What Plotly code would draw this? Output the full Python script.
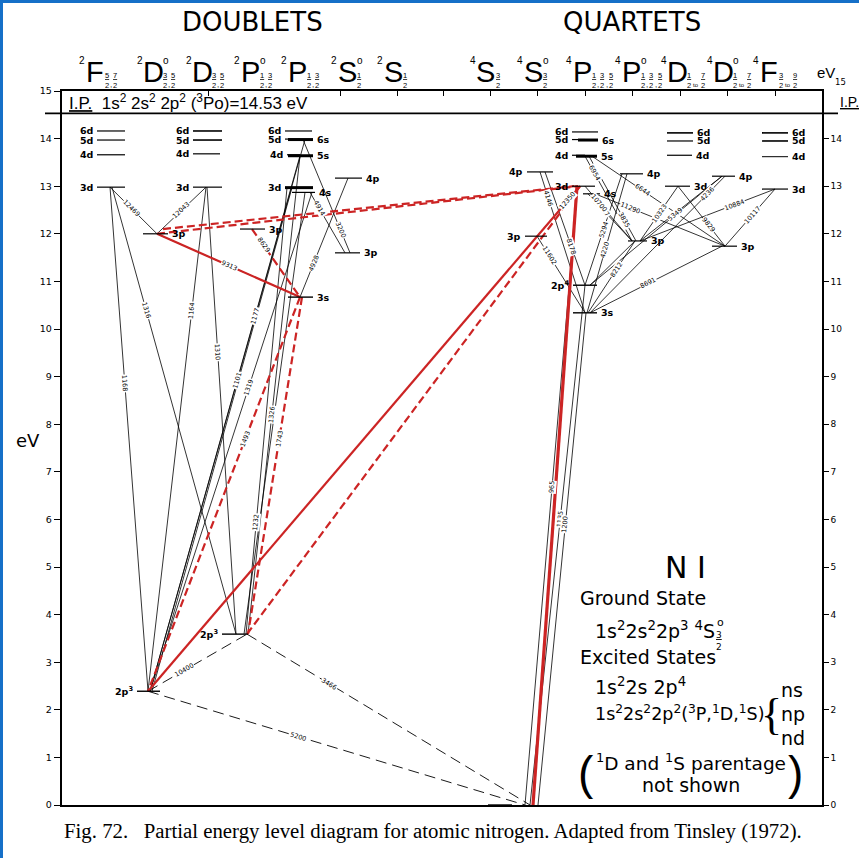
import math
import plotly.graph_objects as go

# ---------------------------------------------------------------------------
# Energy levels of neutral nitrogen (eV above the 2p3 4S ground state)
# ---------------------------------------------------------------------------
LEVEL_IDS = [
    "dF6d", "dF5d", "dF4d", "dF3d",
    "dDo6d", "dDo5d", "dDo4d", "dDo3d",
    "dD3p",
    "dPo6d", "dPo5d", "dP6s", "dPo4d", "dP5s", "dPo3d", "dP4s",
    "dP3p", "dP3s", "dS4p", "dS3p",
    "d2p3D", "d2p3P",
    "qGnd", "qS4p", "qS3p",
    "qP6d", "qP5d", "qP6s", "qP4d", "qP5s", "qP3d", "qP4s",
    "q2p4", "q3s", "qPo4p", "qPo3p",
    "qD6d", "qD5d", "qD4d", "qD3d",
    "qDo4p", "qDo3p",
    "qF6d", "qF5d", "qF4d", "qF3d",
]
LEVEL_EV = [
    14.16, 13.97, 13.66, 12.98,
    14.16, 13.97, 13.68, 12.98,
    12.00,
    14.16, 13.99, 13.98, 13.66, 13.64, 12.97, 12.87,
    12.10, 10.67, 13.17, 11.60,
    2.39, 3.59,
    0.00, 13.30, 11.95,
    14.14, 13.98, 13.97, 13.65, 13.63, 13.00, 12.84,
    10.92, 10.34, 13.26, 11.85,
    14.12, 13.95, 13.65, 13.00,
    13.21, 11.74,
    14.12, 13.95, 13.62, 12.94,
]
LEVEL_LABELS = [
    "6d", "5d", "4d", "3d",
    "6d", "5d", "4d", "3d",
    "3p",
    "6d", "5d", "6s", "4d", "5s", "3d", "4s",
    "3p", "3s", "4p", "3p",
    "2p<sup>3</sup>", "2p<sup>3</sup>",
    "", "4p", "3p",
    "6d", "5d", "6s", "4d", "5s", "3d", "4s",
    "2p<sup>4</sup>", "3s", "4p", "3p",
    "6d", "5d", "4d", "3d",
    "4p", "3p",
    "6d", "5d", "4d", "3d",
]

# Transitions: upper/lower level and wavelength label (Angstrom)
TRANS_FROM = [
    "dF3d", "dDo3d", "dD3p", "dF3d", "dF3d", "dDo3d", "dDo3d",
    "dP6s", "dP5s", "dP4s", "dPo3d", "dPo3d", "dP5s", "dP4s",
    "dP3s", "dP3s", "dP3p", "dD3p", "dP3s", "dP6s", "dP4s",
    "dD3p", "dD3p", "d2p3D", "d2p3P", "qGnd",
    "qGnd", "qGnd", "qGnd",
    "d2p3D", "d2p3P", "d2p3D",
    "qS4p", "qS4p", "qS3p", "qS3p",
    "qP5s", "qP5s", "qP4s", "qP3d", "qP4s", "qP5s",
    "q2p4", "q3s", "q3s", "q3s",
    "qPo3p", "q2p4", "q3s", "qD3d", "qPo3p", "qDo3p", "qPo3p", "q2p4",
]
TRANS_TO = [
    "dD3p", "dD3p", "dP3s", "d2p3D", "d2p3P", "d2p3D", "d2p3P",
    "d2p3D", "d2p3D", "d2p3D", "d2p3D", "d2p3P", "d2p3P", "d2p3P",
    "d2p3D", "d2p3P", "dP3s", "dP3s", "dS4p", "dS3p", "dS3p",
    "qP3d", "qP3d", "qP3d", "qP3d", "qP3d",
    "qP4s", "q2p4", "q3s",
    "d2p3P", "qGnd", "qGnd",
    "q3s", "q2p4", "q3s", "qP3d",
    "qPo3p", "qPo3p", "qPo3p", "qPo3p", "qDo3p", "qDo3p",
    "qPo4p", "qPo4p", "qPo3p", "qDo3p",
    "qD3d", "qDo4p", "qDo4p", "qDo3p", "qF3d", "qF3d", "qDo4p", "qPo3p",
]
TRANS_LABELS = [
    "12469", "12043", "9313", "1168", "1316", "1164", "1310",
    "1177", "1101", "1319", "", "1232", "1326", "",
    "1493", "1743", "8629", "", "4928", "3200", "4914",
    "", "", "", "", "",
    "965", "1135", "1200",
    "10400", "3466", "5200",
    "4146", "8178", "11602", "12350",
    "6954", "3835", "12217", "10700", "11290", "6644",
    "5294", "4220", "8212", "8691",
    "10323", "5349", "4236", "9829", "10884", "10117", "", "",
]

# Column-tick positions along the 15 eV line
TOP_TICKS = [208, 340, 397, 443, 490, 537, 585, 632, 680, 727, 775]

# ---------------------------------------------------------------------------
# Drawing geometry
# ---------------------------------------------------------------------------
W, H = 859, 858
ML, MR, MT, MB = 62, 37, 91, 53
PLOT_W = W - ML - MR
PLOT_H = H - MT - MB
PX_PER_EV = PLOT_H / 15.0
RED = "#cc2424"
FONT = "DejaVu Sans"
SANS = "Liberation Sans, Arial, sans-serif"
SERIF = "Liberation Serif, Times New Roman, serif"

# horizontal extent of each level bar, label side and weight
LEVEL_SPAN = {
    "dF6d": (97, 125, "L", 1.2), "dF5d": (97, 125, "L", 1.2),
    "dF4d": (97, 125, "L", 1.2), "dF3d": (97, 125, "L", 1.2),
    "dDo6d": (193, 222, "L", 1.6), "dDo5d": (193, 222, "L", 1.6),
    "dDo4d": (193, 220, "L", 1.2), "dDo3d": (193, 222, "L", 1.2),
    "dD3p": (143, 168, "R", 1.2),
    "dPo6d": (285, 312, "L", 1.2), "dPo5d": (285, 300, "L", 1.2),
    "dP6s": (288, 313, "R", 3.0), "dPo4d": (287, 300, "L", 1.2),
    "dP5s": (288, 313, "R", 3.0), "dPo3d": (285, 313, "L", 3.0),
    "dP4s": (292, 315, "R", 1.2),
    "dP3p": (240, 265, "R", 1.2), "dP3s": (288, 313, "R", 1.4),
    "dS4p": (335, 362, "R", 1.2), "dS3p": (335, 360, "R", 1.2),
    "d2p3D": (137, 160, "L", 1.4), "d2p3P": (222, 248, "L", 1.4),
    "qGnd": (488, 512, "R", 1.4),
    "qS4p": (527, 553, "L", 1.2), "qS3p": (525, 547, "L", 1.2),
    "qP6d": (572, 598, "L", 1.2), "qP5d": (572, 585, "L", 1.2),
    "qP6s": (578, 598, "R", 3.0), "qP4d": (572, 585, "L", 1.2),
    "qP5s": (576, 597, "R", 3.0), "qP3d": (572, 595, "L", 1.2),
    "qP4s": (583, 600, "R", 1.2),
    "q2p4": (573, 597, "L", 1.4), "q3s": (573, 597, "R", 1.4),
    "qPo4p": (620, 643, "R", 1.2), "qPo3p": (628, 647, "R", 1.2),
    "qD6d": (667, 693, "R", 1.6), "qD5d": (667, 693, "R", 1.2),
    "qD4d": (667, 692, "R", 1.2), "qD3d": (665, 690, "R", 1.2),
    "qDo4p": (712, 735, "R", 1.2), "qDo3p": (712, 737, "R", 1.2),
    "qF6d": (762, 788, "R", 1.6), "qF5d": (762, 788, "R", 1.6),
    "qF4d": (762, 788, "R", 1.0), "qF3d": (762, 788, "R", 1.2),
}

# where each transition meets its two levels, line style, label position
# (x_from, x_to, style, label fraction, energy nudge at the upper end)
TRANS_GEOM = [
    (110, 157, "k", 0.45, 0), (206, 157, "k", 0.5, 0), (157, 300, "k", 0.51, 0),
    (110, 148, "k", 0.39, 0), (112, 236, "k", 0.275, 0), (206, 148, "k", 0.244, 0),
    (207, 236, "k", 0.37, 0),
    (305, 150, "k", 0.32, 0), (300, 150, "k", 0.42, 0), (312, 150, "k", 0.39, 0),
    (292, 152, "k", 0, 0), (287, 246, "k", 0.75, 0), (300, 248, "k", 0.54, 0),
    (305, 244, "k", 0, 0),
    (300, 148, "rd", 0.36, 0), (302, 248, "rd", 0.42, 0), (252, 300, "rd", 0.24, 0),
    (157, 300, "r", 0, 0), (300, 348, "k", 0.29, 0), (303, 350, "k", 0.8, 0),
    (310, 345, "k", 0.26, 0),
    (157, 578, "rd", 0, 0), (163, 574, "rd", 0, 0.1), (148, 580, "r", 0, 0),
    (247, 580, "rd", 0, 0), (533, 577, "rt", 0, 0),
    (525, 577, "k", 0.52, 0), (530, 585, "k", 0.55, 0), (538, 586, "k", 0.57, 0),
    (148, 247, "kd", 0.37, 0), (247, 530, "kd", 0.29, 0), (148, 525, "kd", 0.4, 0),
    (540, 585, "k", 0.19, 0), (545, 585, "k", 0.66, 0), (537, 585, "k", 0.25, 0),
    (537, 580, "k", 0.72, 0),
    (585, 632, "k", 0.2, 0), (589, 636, "k", 0.75, 0), (588, 632, "k", 0.3, 0),
    (585, 632, "k", 0.3, 0), (595, 725, "k", 0.27, 0), (592, 725, "k", 0.38, 0),
    (585, 622, "k", 0.5, 0), (587, 627, "k", 0.45, 0), (588, 635, "k", 0.6, 0),
    (590, 722, "k", 0.44, 0),
    (640, 678, "k", 0.5, 0), (590, 722, "k", 0.65, 0), (590, 725, "k", 0.87, 0),
    (678, 725, "k", 0.65, 0), (640, 775, "k", 0.7, 0), (725, 775, "k", 0.55, 0),
    (640, 722, "k", 0, 0), (590, 635, "k", 0, 0),
]

STYLE = {
    "k": dict(color="black", width=0.8, dash="solid"),
    "kd": dict(color="black", width=0.9, dash="11px,6px"),
    "r": dict(color=RED, width=2.2, dash="solid"),
    "rd": dict(color=RED, width=2.2, dash="8px,4px"),
    "rt": dict(color=RED, width=3.2, dash="solid"),
}

energy = dict(zip(LEVEL_IDS, LEVEL_EV))


def px_x(px):
    return (px - ML) / PLOT_W


def px_y(py):
    return (H - MB - py) / PLOT_H


fig = go.Figure()

# transition lines, grouped by style
groups = {}
for i, (a, b) in enumerate(zip(TRANS_FROM, TRANS_TO)):
    x0, x1, st, t, nudge = TRANS_GEOM[i]
    y0, y1 = energy[a] + nudge, energy[b]
    gx, gy = groups.setdefault(st, ([], []))
    gx += [x0, x1, None]
    gy += [y0, y1, None]
for st in ["k", "kd", "rd", "r", "rt"]:
    if st in groups:
        gx, gy = groups[st]
        fig.add_trace(go.Scatter(x=gx, y=gy, mode="lines", line=STYLE[st],
                                 hoverinfo="skip", showlegend=False))

# level bars, grouped by weight
bars = {}
for lid in LEVEL_IDS:
    x0, x1, side, w = LEVEL_SPAN[lid]
    bx, by = bars.setdefault(w, ([], []))
    bx += [x0, x1, None]
    by += [energy[lid], energy[lid], None]
for w, (bx, by) in bars.items():
    fig.add_trace(go.Scatter(x=bx, y=by, mode="lines",
                             line=dict(color="black", width=w),
                             hoverinfo="skip", showlegend=False))

# a carrier trace for the secondary (right / top) axes
fig.add_trace(go.Scatter(x=[ML], y=[0], xaxis="x2", yaxis="y2", mode="markers",
                         marker=dict(opacity=0), hoverinfo="skip", showlegend=False))

ann = []

# level labels
for lid, lab in zip(LEVEL_IDS, LEVEL_LABELS):
    if not lab:
        continue
    x0, x1, side, w = LEVEL_SPAN[lid]
    common = dict(y=energy[lid], xref="x", yref="y", text="<b>" + lab + "</b>",
                  yanchor="middle", showarrow=False,
                  font=dict(family=FONT, size=9.5, color="black"))
    if side == "L":
        ann.append(dict(x=x0 - 2, xanchor="right", **common))
    else:
        ann.append(dict(x=x1 + 2, xanchor="left", **common))

# wavelength labels written along their lines
for i, lab in enumerate(TRANS_LABELS):
    if not lab:
        continue
    x0, x1, st, t, nudge = TRANS_GEOM[i]
    y0 = energy[TRANS_FROM[i]] + nudge
    y1 = energy[TRANS_TO[i]]
    xm = x0 + (x1 - x0) * t
    ym = y0 + (y1 - y0) * t
    ang = math.degrees(math.atan2(-(y1 - y0) * PX_PER_EV, (x1 - x0)))
    if ang > 90:
        ang -= 180
    if ang <= -90:
        ang += 180
    ann.append(dict(x=xm, y=ym, xref="x", yref="y", text=lab, textangle=ang,
                    showarrow=False, bgcolor="white", borderpad=0,
                    font=dict(family=FONT, size=6.5, color="black")))


def text_px(px, py, text, size, family=FONT, xanchor="center", yanchor="middle"):
    ann.append(dict(x=px_x(px), y=px_y(py), xref="paper", yref="paper", text=text,
                    showarrow=False, xanchor=xanchor, yanchor=yanchor,
                    font=dict(family=family, size=size, color="black")))


# headings
text_px(252, 22, "DOUBLETS", 26)
text_px(632, 22, "QUARTETS", 26)

# term symbols: (multiplicity, letter, odd parity, J tokens, letter centre)
TERMS = [
    ("2", "F", False, ["5/2", ",", "7/2"], 95),
    ("2", "D", True, ["3/2", ",", "5/2"], 153),
    ("2", "D", False, ["3/2", ",", "5/2"], 202),
    ("2", "P", True, ["1/2", ",", "3/2"], 250),
    ("2", "P", False, ["1/2", ",", "3/2"], 297),
    ("2", "S", True, ["1/2"], 347),
    ("2", "S", False, ["1/2"], 393),
    ("4", "S", False, ["3/2"], 486),
    ("4", "S", True, ["3/2"], 533),
    ("4", "P", False, ["1/2", ",", "3/2", ",", "5/2"], 582),
    ("4", "P", True, ["1/2", ",", "3/2", ",", "5/2"], 631),
    ("4", "D", False, ["1/2", "to", "7/2"], 677),
    ("4", "D", True, ["1/2", "to", "7/2"], 723),
    ("4", "F", False, ["3/2", "to", "9/2"], 769),
]
for mult, letter, odd, toks, cx in TERMS:
    text_px(cx, 72, letter, 29, family=SANS)
    text_px(cx - 8, 61, mult, 10, family=SANS, xanchor="right")
    if odd:
        text_px(cx + 8, 61, "o", 10, family=SANS, xanchor="left")
    xx = cx + 9
    for tok in toks:
        if "/" in tok:
            n, d = tok.split("/")
            text_px(xx + 2.5, 80, "<u>" + n + "</u><br>" + d, 7.5, family=SANS)
            xx += 6
        elif tok == ",":
            text_px(xx + 1, 84, ",", 8, family=SANS)
            xx += 2.5
        else:
            text_px(xx + 4, 85, tok, 6, family=SANS)
            xx += 8
text_px(826, 72, "eV", 15, family=SANS)

# ionisation potential
text_px(67, 102, "<u>I.P.</u>\u00a0 1s<sup>2</sup> 2s<sup>2</sup> 2p<sup>2</sup> "
        "(<sup>3</sup>Po)=14.53 eV", 17, family=SANS, xanchor="left")
text_px(841, 82, "15", 8.5)
text_px(849, 102, "<u>I.P.</u>", 14, family=SANS)
text_px(28, 440, "eV", 18)

# description block
text_px(685, 567, "N I", 30)
text_px(578, 598, "Ground State", 19, xanchor="left")
text_px(593, 630, "1s<sup>2</sup>2s<sup>2</sup>2p<sup>3</sup> <sup>4</sup>S",
        19, xanchor="left")
text_px(715, 622, "o", 11, xanchor="left")
text_px(719, 641, "<u>3</u><br>2", 9)
text_px(578, 657, "Excited States", 19, xanchor="left")
text_px(593, 686, "1s<sup>2</sup>2s 2p<sup>4</sup>", 19, xanchor="left")
text_px(593, 713, "1s<sup>2</sup>2s<sup>2</sup>2p<sup>2</sup>(<sup>3</sup>P,<sup>1</sup>D,<sup>1</sup>S)",
        17.5, xanchor="left")
text_px(771, 714, "{", 44, family=SERIF)
text_px(779, 690, "ns", 19, xanchor="left")
text_px(779, 714, "np", 19, xanchor="left")
text_px(779, 738, "nd", 19, xanchor="left")
text_px(586, 773, "(", 46, family=SANS)
text_px(795, 773, ")", 46, family=SANS)
text_px(691, 762, "<sup>1</sup>D and <sup>1</sup>S parentage", 18.5)
text_px(691, 785, "not shown", 19)

# caption
text_px(62, 831, "Fig. 72.\u00a0\u00a0\u00a0Partial energy level diagram for atomic nitrogen. "
        "Adapted from Tinsley (1972).", 20.8, family=SERIF, xanchor="left")

shapes = [
    # ionisation limit line, running past both axes
    dict(type="line", xref="paper", yref="y", x0=px_x(45), x1=px_x(838),
         y0=14.53, y1=14.53, line=dict(color="black", width=1.8)),
    # blue frame
    dict(type="rect", xref="paper", yref="paper", x0=px_x(0), x1=px_x(3),
         y0=px_y(H), y1=px_y(0), fillcolor="#1670c8", line=dict(width=0)),
    dict(type="rect", xref="paper", yref="paper", x0=px_x(0), x1=px_x(W),
         y0=px_y(3), y1=px_y(0), fillcolor="#1670c8", line=dict(width=0)),
]

axis_common = dict(range=[0, 15], showgrid=False, zeroline=False, fixedrange=True,
                   showline=True, linecolor="black", ticks="outside", tickcolor="black",
                   tickwidth=1.2)

fig.update_layout(
    width=W, height=H,
    margin=dict(l=ML, r=MR, t=MT, b=MB, pad=0),
    paper_bgcolor="white", plot_bgcolor="white",
    xaxis=dict(range=[ML, ML + PLOT_W], showgrid=False, zeroline=False, showline=True,
               linecolor="black", linewidth=2, showticklabels=False, ticks="",
               fixedrange=True),
    xaxis2=dict(range=[ML, ML + PLOT_W], overlaying="x", side="top", showgrid=False,
                zeroline=False, showline=True, linecolor="black", linewidth=1.6,
                tickvals=TOP_TICKS, ticks="inside", ticklen=5, tickcolor="black",
                showticklabels=False, fixedrange=True),
    yaxis=dict(**axis_common, linewidth=2.4, dtick=1, ticklen=6,
               tickfont=dict(family=FONT, size=9.5, color="black")),
    yaxis2=dict(**axis_common, overlaying="y", side="right", linewidth=1.6,
                tickvals=list(range(15)), ticklen=5,
                tickfont=dict(family=FONT, size=9, color="black")),
    annotations=ann,
    shapes=shapes,
    showlegend=False,
)

fig.write_html("out.html")
